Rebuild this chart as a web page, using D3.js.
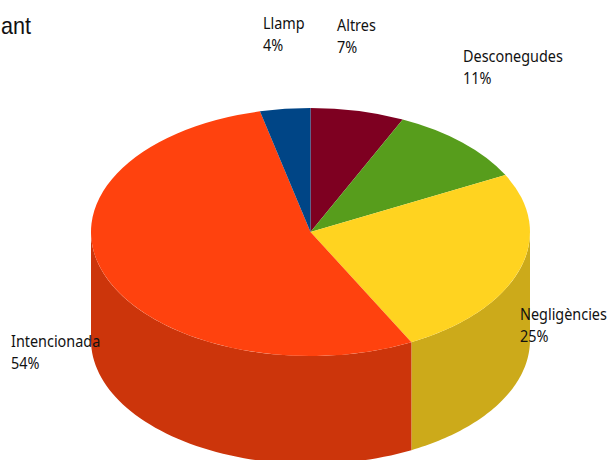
<!DOCTYPE html>
<html>
<head>
<meta charset="utf-8">
<script src="https://cdn.jsdelivr.net/npm/d3@7"></script>
<style>
html, body { margin: 0; padding: 0; background: #fff; overflow: hidden; }
text { fill: #111; }
</style>
</head>
<body>
<div id="chart"></div>
<script>
var categories = ["Altres", "Desconegudes", "Negligències", "Intencionada", "Llamp"];
var shares = [6.9, 10.5, 25, 53.9, 3.7];
var percentLabels = ["7%", "11%", "25%", "54%", "4%"];
var topColors = ["#7e0021", "#579d1c", "#ffd320", "#ff420e", "#004586"];
var sideColors = ["#650019", "#467e16", "#ccaa1a", "#cc350b", "#00386b"];
var labelX = [337, 463, 520, 11, 263];
var labelY = [31, 62, 320, 347, 29];

var w = 611, h = 460;
var cx = 310.5, cy = 232, rx = 219.5, ry = 124, depth = 108;

var svg = d3.select("#chart").append("svg").attr("width", w).attr("height", h).style("display", "block");

var slices = d3.pie().sort(null).value(function (d) {
    return d;
})(shares);

function px(a) {
    return rx * Math.sin(a);
}
function py(a) {
    return -ry * Math.cos(a);
}

// side wall of a slice, only the part on the front of the ellipse is visible
function wall(d) {
    var a0 = Math.max(d.startAngle, Math.PI / 2);
    var a1 = Math.min(d.endAngle, Math.PI * 3 / 2);
    if (a1 <= a0) return null;
    var p = d3.path();
    var n = 60;
    p.moveTo(px(a0), py(a0));
    for (var i = 1; i <= n; i++) {
        var a = a0 + (a1 - a0) * i / n;
        p.lineTo(px(a), py(a));
    }
    for (var j = n; j >= 0; j--) {
        var b = a0 + (a1 - a0) * j / n;
        p.lineTo(px(b), py(b) + depth);
    }
    p.closePath();
    return p.toString();
}

var pieG = svg.append("g").attr("transform", "translate(" + cx + "," + cy + ")");

pieG.selectAll(".side").data(slices).enter().append("path").attr("class", "side").attr("d", wall).style("fill", function (d, i) {
    return sideColors[i];
});

var arc = d3.arc().innerRadius(0).outerRadius(rx);
pieG.append("g").attr("transform", "scale(1," + (ry / rx) + ")").selectAll(".top").data(slices).enter().append("path").attr("class", "top").attr("d", arc).style("fill", function (d, i) {
    return topColors[i];
});

// the installed fonts are wider than the original one, so squeeze the labels
var labels = svg.selectAll(".lab").data(categories).enter().append("text").attr("class", "lab").attr("transform", function (d, i) {
    return "translate(" + labelX[i] + "," + labelY[i] + ") scale(0.9,1)";
}).style("font-family", "'Noto Sans',sans-serif").style("font-size", "16px");

labels.append("tspan").text(function (d) {
    return d;
});
labels.append("tspan").attr("x", 0).attr("dy", 22).text(function (d, i) {
    return percentLabels[i];
});

svg.append("text").attr("transform", "translate(1,34) scale(0.9,1)").style("font-family", "'Liberation Sans',Arial,sans-serif").style("font-size", "24px").text("ant");
</script>
</body>
</html>
